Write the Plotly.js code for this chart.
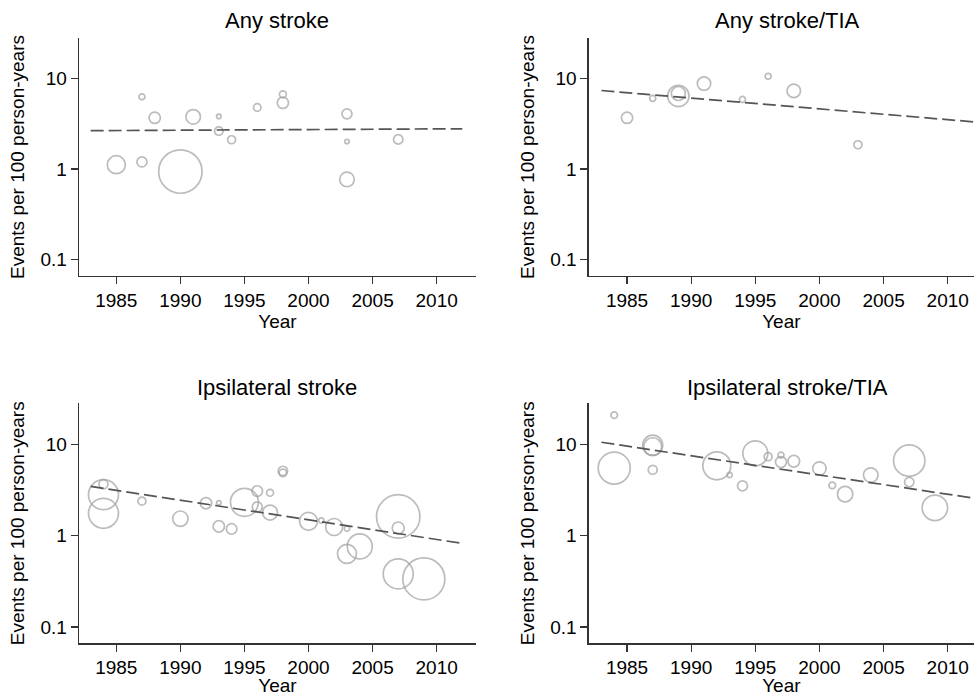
<!DOCTYPE html>
<html>
<head>
<meta charset="utf-8">
<script src="https://cdn.plot.ly/plotly-3.0.1.min.js"></script>
<style>
  html, body { margin: 0; padding: 0; background: #fff; overflow: hidden; }
  #chart { width: 974px; height: 696px; }
</style>
</head>
<body>
<div id="chart"></div>
<script>
// ---------- Data ----------
const panelTitles = ["Any stroke", "Any stroke/TIA", "Ipsilateral stroke", "Ipsilateral stroke/TIA"];
const xTickVals = [1985, 1990, 1995, 2000, 2005, 2010];
const yTickVals = [0.1, 1, 10];
const yTickText = ["0.1", "1", "10"];
const trendYears = [1983, 2012];

// Any stroke
const anyYears   = [1985, 1987, 1987, 1988, 1990, 1991, 1993, 1993, 1994, 1996, 1998, 1998, 2003, 2003, 2003, 2007];
const anyRates   = [1.12, 6.28, 1.20, 3.69, 0.94, 3.78, 3.82, 2.63, 2.11, 4.80, 6.70, 5.40, 4.08, 2.02, 0.77, 2.13];
const anyWeights = [81, 9, 25, 32, 471, 53, 5, 18, 16, 14, 12, 32, 25, 5, 53, 22];
const anyTrend   = [2.66, 2.79];

// Any stroke/TIA
const anyTiaYears   = [1985, 1987, 1989, 1989, 1991, 1994, 1996, 1998, 2003];
const anyTiaRates   = [3.69, 6.03, 6.43, 6.84, 8.81, 5.88, 10.6, 7.31, 1.86];
const anyTiaWeights = [32, 9, 114, 49, 45, 9, 9, 45, 16];
const anyTiaTrend   = [7.38, 3.33];

// Ipsilateral stroke
const ipsiYears   = [1984, 1984, 1984, 1987, 1990, 1992, 1993, 1993, 1994, 1995, 1996, 1996, 1997, 1997, 1998, 1998, 2000, 2001, 2002, 2003, 2003, 2004, 2007, 2007, 2007, 2009];
const ipsiRates   = [3.65, 2.80, 1.75, 2.38, 1.53, 2.26, 2.28, 1.26, 1.18, 2.31, 3.07, 2.06, 2.94, 1.78, 5.10, 4.85, 1.43, 1.46, 1.24, 1.19, 0.63, 0.76, 1.62, 1.21, 0.38, 0.335];
const ipsiWeights = [20, 225, 225, 16, 59, 32, 5, 32, 28, 196, 28, 25, 12, 56, 22, 14, 81, 7, 72, 7, 90, 156, 471, 36, 225, 441];
const ipsiTrend   = [3.45, 0.82];

// Ipsilateral stroke/TIA
const ipsiTiaYears   = [1984, 1984, 1987, 1987, 1987, 1992, 1993, 1994, 1995, 1996, 1997, 1997, 1998, 2000, 2001, 2002, 2004, 2007, 2007, 2009];
const ipsiTiaRates   = [20.8, 5.48, 9.75, 9.40, 5.25, 5.80, 4.60, 3.50, 7.95, 7.30, 7.60, 6.38, 6.50, 5.42, 3.54, 2.84, 4.59, 6.61, 3.85, 2.01];
const ipsiTiaWeights = [11, 256, 100, 80, 20, 196, 7, 25, 156, 16, 9, 30, 34, 45, 11, 59, 53, 246, 22, 161];
const ipsiTiaTrend   = [10.5, 2.57];

// ---------- Traces ----------
const panels = [
  {x: anyYears, y: anyRates, w: anyWeights, t: anyTrend, xa: 'x', ya: 'y'},
  {x: anyTiaYears, y: anyTiaRates, w: anyTiaWeights, t: anyTiaTrend, xa: 'x2', ya: 'y2'},
  {x: ipsiYears, y: ipsiRates, w: ipsiWeights, t: ipsiTrend, xa: 'x3', ya: 'y3'},
  {x: ipsiTiaYears, y: ipsiTiaRates, w: ipsiTiaWeights, t: ipsiTiaTrend, xa: 'x4', ya: 'y4'}
];

const circleColor = '#a0a0a0';
const traces = [];
panels.forEach(p => {
  traces.push({
    type: 'scatter', mode: 'markers', x: p.x, y: p.y, xaxis: p.xa, yaxis: p.ya,
    marker: {
      size: p.w, sizemode: 'area', sizeref: 0.5, sizemin: 1,
      color: 'rgba(0,0,0,0)', line: {color: circleColor, width: 1.7}
    },
    hoverinfo: 'x+y'
  });
  traces.push({
    type: 'scatter', mode: 'lines', x: trendYears, y: p.t, xaxis: p.xa, yaxis: p.ya,
    line: {color: '#555555', width: 1.7, dash: '13px,5px'},
    hoverinfo: 'skip'
  });
});

// ---------- Layout ----------
const axisColor = '#333333';
function xAxis(domain, range, anchor) {
  return {
    domain: domain, range: range, anchor: anchor,
    tickmode: 'array', tickvals: xTickVals,
    ticks: 'outside', ticklen: 7, tickwidth: 1.3, tickcolor: axisColor,
    showline: true, linecolor: axisColor, linewidth: 1.3,
    showgrid: false, zeroline: false,
    tickfont: {size: 19},
    title: {text: 'Year', font: {size: 19}, standoff: 0}
  };
}
function yAxis(domain, anchor) {
  return {
    domain: domain, anchor: anchor, type: 'log', range: [-1.18, 1.448],
    tickmode: 'array', tickvals: yTickVals, ticktext: yTickText,
    ticks: 'outside', ticklen: 7, tickwidth: 1.3, tickcolor: axisColor,
    showline: true, linecolor: axisColor, linewidth: 1.3,
    showgrid: false, zeroline: false,
    tickfont: {size: 19},
    title: {text: 'Events per 100 person-years', font: {size: 19}, standoff: 10}
  };
}

const W = 974, H = 696;
const xL = [79 / W, 476 / W], xR = [588.7 / W, 1];
const yT = [(H - 276) / H, (H - 38) / H], yB = [(H - 643.3) / H, (H - 403.3) / H];

const layout = {
  width: W, height: H,
  margin: {l: 0, r: 0, t: 0, b: 0},
  paper_bgcolor: '#ffffff', plot_bgcolor: '#ffffff',
  showlegend: false,
  font: {family: '"Liberation Sans", Arial, sans-serif', color: '#000000', size: 18},
  xaxis:  xAxis(xL, [1982.09, 2013.07], 'y'),
  yaxis:  yAxis(yT, 'x'),
  xaxis2: xAxis(xR, [1982.01, 2012.05], 'y2'),
  yaxis2: yAxis(yT, 'x2'),
  xaxis3: xAxis(xL, [1982.09, 2013.07], 'y3'),
  yaxis3: yAxis(yB, 'x3'),
  xaxis4: xAxis(xR, [1982.01, 2012.05], 'y4'),
  yaxis4: yAxis(yB, 'x4'),
  annotations: [
    {text: panelTitles[0], x: 277 / W, y: 1 - 21 / H},
    {text: panelTitles[1], x: 787 / W, y: 1 - 21 / H},
    {text: panelTitles[2], x: 277 / W, y: 1 - 387 / H},
    {text: panelTitles[3], x: 787 / W, y: 1 - 387 / H}
  ].map(a => Object.assign(a, {
    xref: 'paper', yref: 'paper', xanchor: 'center', yanchor: 'middle',
    showarrow: false, font: {size: 22, color: '#000000'}
  }))
};

Plotly.newPlot('chart', traces, layout, {displayModeBar: false, staticPlot: true});
</script>
</body>
</html>
